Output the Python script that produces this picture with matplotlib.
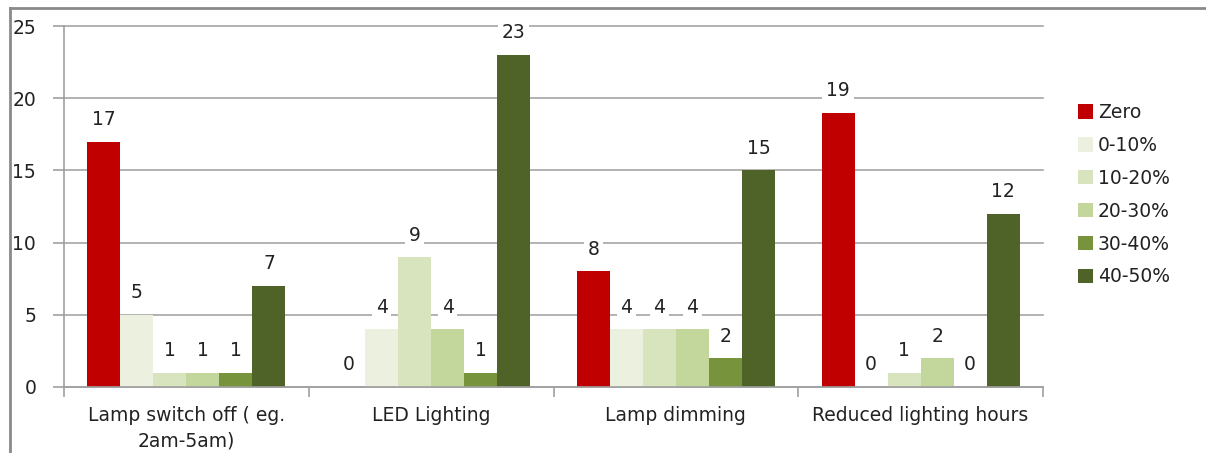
import matplotlib
matplotlib.use("Agg")
import matplotlib.pyplot as plt
from matplotlib.lines import Line2D
import numpy as np

categories = ["Lamp switch off ( eg.\n2am-5am)", "LED Lighting", "Lamp dimming", "Reduced lighting hours"]
series_names = ["Zero", "0-10%", "10-20%", "20-30%", "30-40%", "40-50%"]
zero = [17, 0, 8, 19]
p0_10 = [5, 4, 4, 0]
p10_20 = [1, 9, 4, 1]
p20_30 = [1, 4, 4, 2]
p30_40 = [1, 1, 2, 0]
p40_50 = [7, 23, 15, 12]
series_values = [zero, p0_10, p10_20, p20_30, p30_40, p40_50]
colors = ["#C00000", "#EBF1DE", "#D7E4BD", "#C3D69B", "#77933C", "#4F6228"]
yticks = [0, 5, 10, 15, 20, 25]

plt.rcParams["font.family"] = ["DejaVu Sans"]
TXT = "#222222"
FS = 13.5

W, H = 1206, 453
fig = plt.figure(figsize=(W / 100, H / 100), dpi=100)
ax = fig.add_axes([64 / W, 1 - 387 / H, (1043 - 64) / W, (387 - 26) / H])

# outer chart frame
fig.add_artist(Line2D([10 / W, 10 / W], [0, 1 - 8 / H], transform=fig.transFigure,
                      color="#8a8a8a", lw=2))
fig.add_artist(Line2D([10 / W, 1], [1 - 8 / H, 1 - 8 / H], transform=fig.transFigure,
                      color="#8a8a8a", lw=2))

n = len(series_values)
bw = 0.81 / n
x = np.arange(len(categories))
for i, (name, vals, c) in enumerate(zip(series_names, series_values, colors)):
    pos = x - 0.405 + bw * (i + 0.5)
    ax.bar(pos, vals, width=bw, color=c, label=name, zorder=2)
    for xp, v in zip(pos, vals):
        ax.annotate(str(v), (xp, v), xytext=(0, 9), textcoords="offset points",
                    ha="center", va="bottom", fontsize=FS, color=TXT,
                    bbox=dict(boxstyle="square,pad=0.2", fc="white", ec="none"),
                    zorder=4)

ax.set_xlim(-0.5, len(categories) - 0.5)
ax.set_ylim(0, 25)
ax.set_yticks(yticks)
ax.yaxis.grid(True, color="#a6a6a6", lw=1.2, zorder=0, clip_on=False)
ax.set_axisbelow(True)
for s in ["top", "right"]:
    ax.spines[s].set_visible(False)
for s in ["left", "bottom"]:
    ax.spines[s].set_color("#a0a0a0")
    ax.spines[s].set_linewidth(1.2)

ax.set_xticks(x)
ax.set_xticklabels(categories, fontsize=FS, color=TXT, linespacing=1.4)
ax.tick_params(axis="x", length=0, pad=14)
ax.set_xticks(np.arange(len(categories) + 1) - 0.5, minor=True)
ax.tick_params(axis="x", which="minor", length=7, color="#a0a0a0", width=1.2)
ax.tick_params(axis="y", length=8, color="#a0a0a0", width=1.2, labelsize=FS,
               labelcolor=TXT, pad=12)

axw = 1043 - 64
leg = ax.legend(loc="upper left", bbox_to_anchor=((1078 - 64) / axw, (387 - 103) / 361),
                frameon=False, fontsize=FS, handlelength=0.8, handleheight=0.8,
                handletextpad=0.25, labelspacing=0.74, borderaxespad=0, borderpad=0)
for t in leg.get_texts():
    t.set_color(TXT)

fig.savefig("out.png", dpi=100)
